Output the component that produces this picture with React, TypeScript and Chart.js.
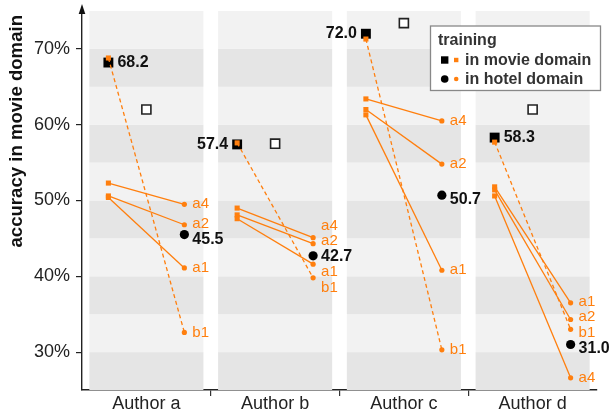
import { useEffect, useRef } from 'react';
import { Chart, registerables } from 'chart.js';

Chart.register(...registerables);

// ---------- data ----------
const categories = ['Author a', 'Author b', 'Author c', 'Author d'];

const a1Movie = [50.4, 47.6, 61.3, 51.8];
const a1Hotel = [41.1, 41.6, 40.8, 36.5];
const a2Movie = [50.6, 48.1, 62.0, 51.4];
const a2Hotel = [46.8, 44.3, 54.8, 34.3];
const a4Movie = [52.3, 49.0, 63.4, 50.6];
const a4Hotel = [49.5, 45.1, 60.5, 26.6];
const b1Movie = [68.8, 57.6, 71.3, 57.7];
const b1Hotel = [32.6, 39.8, 30.3, 33.0];

const movieMean = [68.2, 57.4, 72.0, 58.3];
const hotelMean = [45.5, 42.7, 50.7, 31.0];
const otherScore = [62.0, 57.5, 73.4, 62.0];

const yTicks = [30, 40, 50, 60, 70];
const movieLabelSide = ['right', 'left', 'left', 'right'];

const yTitle = 'accuracy in movie domain';
const legendTitle = 'training';
const legendLabels = ['in movie domain', 'in hotel domain'];

const series = [
  { name: 'a1', movie: a1Movie, hotel: a1Hotel, dashed: false },
  { name: 'a2', movie: a2Movie, hotel: a2Hotel, dashed: false },
  { name: 'a4', movie: a4Movie, hotel: a4Hotel, dashed: false },
  { name: 'b1', movie: b1Movie, hotel: b1Hotel, dashed: true },
];

// ---------- style ----------
const ORANGE = '#ff7f0e';
const LIGHT = '#f2f2f2';
const DARK = '#e5e5e5';
const FONT = "'Liberation Sans', Arial, Helvetica, sans-serif";
const OFF = 0.295;
const PANEL = 0.443;
const Y_MIN = 25;
const Y_MAX = 75;
const BAND = 5;

function repel(items: { y: number; py?: number }[], gap: number) {
  const sorted = [...items].sort((a, b) => a.y - b.y);
  let clusters = sorted.map((it) => ({ items: [it], center: it.y }));
  const layout = (c: any) => {
    const n = c.items.length;
    const start = c.center - ((n - 1) * gap) / 2;
    c.items.forEach((it: any, k: number) => (it.py = start + k * gap));
    c.top = start;
    c.bottom = start + (n - 1) * gap;
  };
  clusters.forEach(layout);
  let changed = true;
  while (changed) {
    changed = false;
    for (let k = 0; k < clusters.length - 1; k++) {
      const a: any = clusters[k];
      const b: any = clusters[k + 1];
      if (b.top - a.bottom < gap - 0.01) {
        const merged: any = { items: [...a.items, ...b.items] };
        merged.center = merged.items.reduce((s: number, it: any) => s + it.y, 0) / merged.items.length;
        layout(merged);
        clusters.splice(k, 2, merged);
        changed = true;
        break;
      }
    }
  }
}

const panelsPlugin = {
  id: 'panels',
  beforeDatasetsDraw(chart: any) {
    const { ctx, scales } = chart;
    const x = scales.x;
    const y = scales.y;
    ctx.save();
    categories.forEach((_, i) => {
      const l = x.getPixelForValue(i - PANEL);
      const r = x.getPixelForValue(i + PANEL);
      for (let v = Y_MIN; v < Y_MAX; v += BAND) {
        const top = y.getPixelForValue(v + BAND);
        const bot = y.getPixelForValue(v);
        ctx.fillStyle = Math.round(v / BAND) % 2 === 1 ? DARK : LIGHT;
        ctx.fillRect(l, top, r - l, bot - top);
      }
    });
    ctx.restore();
  },
};

const labelsPlugin = {
  id: 'pointLabels',
  afterDatasetsDraw(chart: any) {
    const { ctx, scales } = chart;
    const x = scales.x;
    const y = scales.y;
    ctx.save();
    ctx.textBaseline = 'middle';
    categories.forEach((_, i) => {
      const lx = x.getPixelForValue(i - OFF);
      const ly = y.getPixelForValue(movieMean[i]);
      ctx.font = `bold 16px ${FONT}`;
      ctx.fillStyle = '#111';
      if (movieLabelSide[i] === 'right') {
        ctx.textAlign = 'left';
        ctx.fillText(movieMean[i].toFixed(1), lx + 9, ly);
      } else {
        ctx.textAlign = 'right';
        ctx.fillText(movieMean[i].toFixed(1), lx - 9, ly);
      }
      const items: any[] = series.map((s) => ({
        text: s.name,
        y: y.getPixelForValue(s.hotel[i]),
        color: ORANGE,
        bold: false,
      }));
      items.push({
        text: hotelMean[i].toFixed(1),
        y: y.getPixelForValue(hotelMean[i]) + 4,
        color: '#111',
        bold: true,
      });
      repel(items, 15.5);
      const rx = x.getPixelForValue(i + OFF) + 8;
      ctx.textAlign = 'left';
      items.forEach((it) => {
        ctx.font = it.bold ? `bold 16px ${FONT}` : `15px ${FONT}`;
        ctx.fillStyle = it.color;
        ctx.fillText(it.text, rx, it.py);
      });
    });
    ctx.restore();
  },
};

const decorPlugin = {
  id: 'decor',
  afterDraw(chart: any) {
    const { ctx, chartArea } = chart;
    ctx.save();
    const ax = chartArea.left;
    const at = chartArea.top;
    ctx.fillStyle = '#111';
    ctx.beginPath();
    ctx.moveTo(ax, at - 7);
    ctx.lineTo(ax - 3.3, at + 3);
    ctx.lineTo(ax + 3.3, at + 3);
    ctx.closePath();
    ctx.fill();

    // y axis title
    ctx.save();
    ctx.translate(17, at + 4);
    ctx.rotate(-Math.PI / 2);
    ctx.font = `bold 18.6px ${FONT}`;
    ctx.fillStyle = '#111';
    ctx.textAlign = 'right';
    ctx.textBaseline = 'middle';
    ctx.fillText(yTitle, 0, 0);
    ctx.restore();

    const bx = 430.5;
    const by = 26;
    const bw = 170;
    const bh = 64.5;
    ctx.fillStyle = '#fff';
    ctx.fillRect(bx, by, bw, bh);
    ctx.strokeStyle = '#888';
    ctx.lineWidth = 1.3;
    ctx.strokeRect(bx, by, bw, bh);
    ctx.fillStyle = '#333';
    ctx.font = `bold 16px ${FONT}`;
    ctx.textAlign = 'left';
    ctx.textBaseline = 'middle';
    ctx.fillText(legendTitle, 438, 41);
    const r1 = 60;
    const r2 = 79;
    ctx.fillStyle = '#000';
    ctx.fillRect(441, r1 - 3.7, 7.4, 7.4);
    ctx.fillStyle = ORANGE;
    ctx.fillRect(454, r1 - 2.2, 4.4, 4.4);
    ctx.fillStyle = '#000';
    ctx.beginPath();
    ctx.arc(444.7, r2, 3.8, 0, Math.PI * 2);
    ctx.fill();
    ctx.fillStyle = ORANGE;
    ctx.beginPath();
    ctx.arc(456.2, r2, 2.3, 0, Math.PI * 2);
    ctx.fill();
    ctx.fillStyle = '#333';
    ctx.fillText(legendLabels[0], 465, r1 + 0.5);
    ctx.fillText(legendLabels[1], 465, r2 + 0.5);
    ctx.restore();
  },
};

export default function App() {
  const ref = useRef<HTMLCanvasElement | null>(null);

  useEffect(() => {
    if (!ref.current) return;
    const datasets: any[] = [];
    series.forEach((s) => {
      categories.forEach((_, i) => {
        datasets.push({
          type: 'scatter',
          showLine: true,
          data: [
            { x: i - OFF, y: s.movie[i] },
            { x: i + OFF, y: s.hotel[i] },
          ],
          borderColor: ORANGE,
          borderWidth: 1.3,
          borderDash: s.dashed ? [4, 3] : [],
          pointStyle: ['rect', 'circle'],
          pointRadius: [3.6, 2.6],
          pointBackgroundColor: ORANGE,
          pointBorderColor: ORANGE,
          pointBorderWidth: 0,
          order: 1,
        });
      });
    });
    datasets.push({
      type: 'scatter',
      data: categories.map((_, i) => ({ x: i - OFF, y: movieMean[i] })),
      pointStyle: 'rect',
      pointRadius: 7,
      pointBackgroundColor: '#000',
      pointBorderWidth: 0,
      order: 2,
    });
    datasets.push({
      type: 'scatter',
      data: categories.map((_, i) => ({ x: i + OFF, y: hotelMean[i] })),
      pointStyle: 'circle',
      pointRadius: 4.6,
      pointBackgroundColor: '#000',
      pointBorderWidth: 0,
      order: 2,
    });
    datasets.push({
      type: 'scatter',
      data: categories.map((_, i) => ({ x: i, y: otherScore[i] })),
      pointStyle: 'rect',
      pointRadius: 6.4,
      pointBackgroundColor: '#fff',
      pointBorderColor: '#222',
      pointBorderWidth: 1.6,
      order: 0,
    });

    const chart = new Chart(ref.current, {
      type: 'scatter',
      data: { datasets },
      options: {
        animation: false,
        responsive: false,
        events: [],
        layout: { padding: { top: 11, right: 18, left: 0, bottom: 0 } },
        plugins: { legend: { display: false }, tooltip: { enabled: false } },
        scales: {
          x: {
            type: 'linear',
            min: -0.5,
            max: 3.5,
            afterBuildTicks: (scale: any) => {
              const t: any[] = [];
              for (let v = -0.5; v <= 3.5; v += 0.5) t.push({ value: v });
              scale.ticks = t;
            },
            afterFit: (scale: any) => {
              scale.height = 22;
              scale.paddingLeft = 0;
              scale.paddingRight = 0;
              scale.paddingTop = 0;
              scale.paddingBottom = 0;
            },
            ticks: {
              autoSkip: false,
              maxRotation: 0,
              padding: -3,
              color: '#222',
              font: { family: FONT, size: 18 },
              callback: (v: any) => (Number.isInteger(v) ? categories[v] : ''),
            },
            grid: {
              drawOnChartArea: false,
              drawTicks: true,
              tickLength: 6,
              lineWidth: 1.2,
              color: (ctx: any) => {
                const v = ctx.tick ? ctx.tick.value : null;
                return v === 0.5 || v === 1.5 || v === 2.5 ? '#333' : 'rgba(0,0,0,0)';
              },
            },
            border: { display: true, color: '#222', width: 1.4 },
          },
          y: {
            type: 'linear',
            min: Y_MIN,
            max: Y_MAX,
            afterBuildTicks: (scale: any) => {
              scale.ticks = yTicks.map((v) => ({ value: v }));
            },
            afterFit: (scale: any) => {
              scale.width = 82;
              scale.paddingTop = 0;
              scale.paddingBottom = 0;
              scale.paddingLeft = 0;
              scale.paddingRight = 0;
            },
            ticks: {
              padding: 6,
              color: '#222',
              font: { family: FONT, size: 18 },
              callback: (v: any) => `${v}%`,
            },
            grid: {
              drawOnChartArea: false,
              drawTicks: true,
              tickLength: 6,
              lineWidth: 1.2,
              color: '#222',
            },
            border: { display: true, color: '#222', width: 1.4 },
          },
        },
      },
      plugins: [panelsPlugin, labelsPlugin, decorPlugin],
    } as any);
    return () => chart.destroy();
  }, []);

  return (
    <div style={{ position: 'absolute', left: 0, top: 0, width: 615, height: 412 }}>
      <canvas ref={ref} width={615} height={412} style={{ display: 'block' }} />
    </div>
  );
}
